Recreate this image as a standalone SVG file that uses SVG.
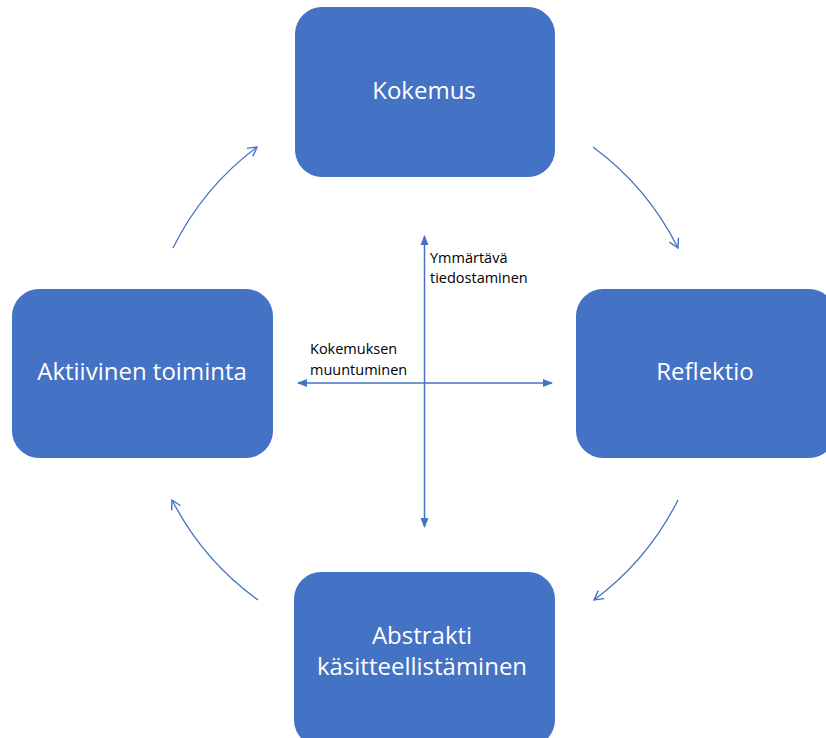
<svg xmlns="http://www.w3.org/2000/svg" width="826" height="738" viewBox="0 0 826 738">
<style>
.box{fill:#4472C4;}
.lbl{font-family:"Open Sans","Noto Sans",sans-serif;font-size:24px;fill:#ffffff;text-anchor:middle;}
.sm{font-family:"Open Sans","Noto Sans",sans-serif;font-size:14.5px;fill:#000000;}
.arc{fill:none;stroke:#4472C4;stroke-width:1.3;marker-end:url(#open);}
.axis{fill:none;stroke:#4472C4;stroke-width:1.5;marker-start:url(#tri);marker-end:url(#tri);}
</style>
<defs>
<marker id="open" markerUnits="userSpaceOnUse" markerWidth="14" markerHeight="14" refX="10" refY="6" orient="auto" viewBox="0 0 14 12">
<path d="M1,1 L10,6 L1,11" fill="none" stroke="#4472C4" stroke-width="1.4"/>
</marker>
<marker id="tri" markerUnits="userSpaceOnUse" markerWidth="10" markerHeight="10" refX="9" refY="4" orient="auto-start-reverse" viewBox="0 0 10 8">
<path d="M0,0 L10,4 L0,8 Z" fill="#4472C4"/>
</marker>
</defs>
<rect width="826" height="738" fill="#ffffff"/>
<g id="connectors">
<path class="arc" d="M173,248 A282,282 0 0 1 257,147"/>
<path class="arc" d="M593,147 A282,282 0 0 1 678,248"/>
<path class="arc" d="M678,500 A282,282 0 0 1 594,600"/>
<path class="arc" d="M258,600 A282,282 0 0 1 172,500"/>
<path class="axis" d="M424.5,236 L424.5,527"/>
<path class="axis" d="M298,383 L552,383"/>
</g>
<g id="kokemus">
<rect class="box" x="295" y="7" width="260" height="170" rx="27"/>
<text class="lbl" x="424" y="99">Kokemus</text>
</g>
<g id="reflektio">
<rect class="box" x="576" y="289" width="260" height="169" rx="27"/>
<text class="lbl" x="705" y="380">Reflektio</text>
</g>
<g id="abstrakti">
<rect class="box" x="294" y="572" width="261" height="175" rx="27"/>
<text class="lbl" x="422" y="644">Abstrakti</text>
<text class="lbl" x="422" y="675">käsitteellistäminen</text>
</g>
<g id="aktiivinen">
<rect class="box" x="12" y="289" width="261" height="169" rx="27"/>
<text class="lbl" x="142" y="380">Aktiivinen toiminta</text>
</g>
<g id="labels">
<text class="sm" x="430" y="263">Ymmärtävä</text>
<text class="sm" x="430" y="283">tiedostaminen</text>
<text class="sm" x="310" y="354">Kokemuksen</text>
<text class="sm" x="310" y="375">muuntuminen</text>
</g>
</svg>
